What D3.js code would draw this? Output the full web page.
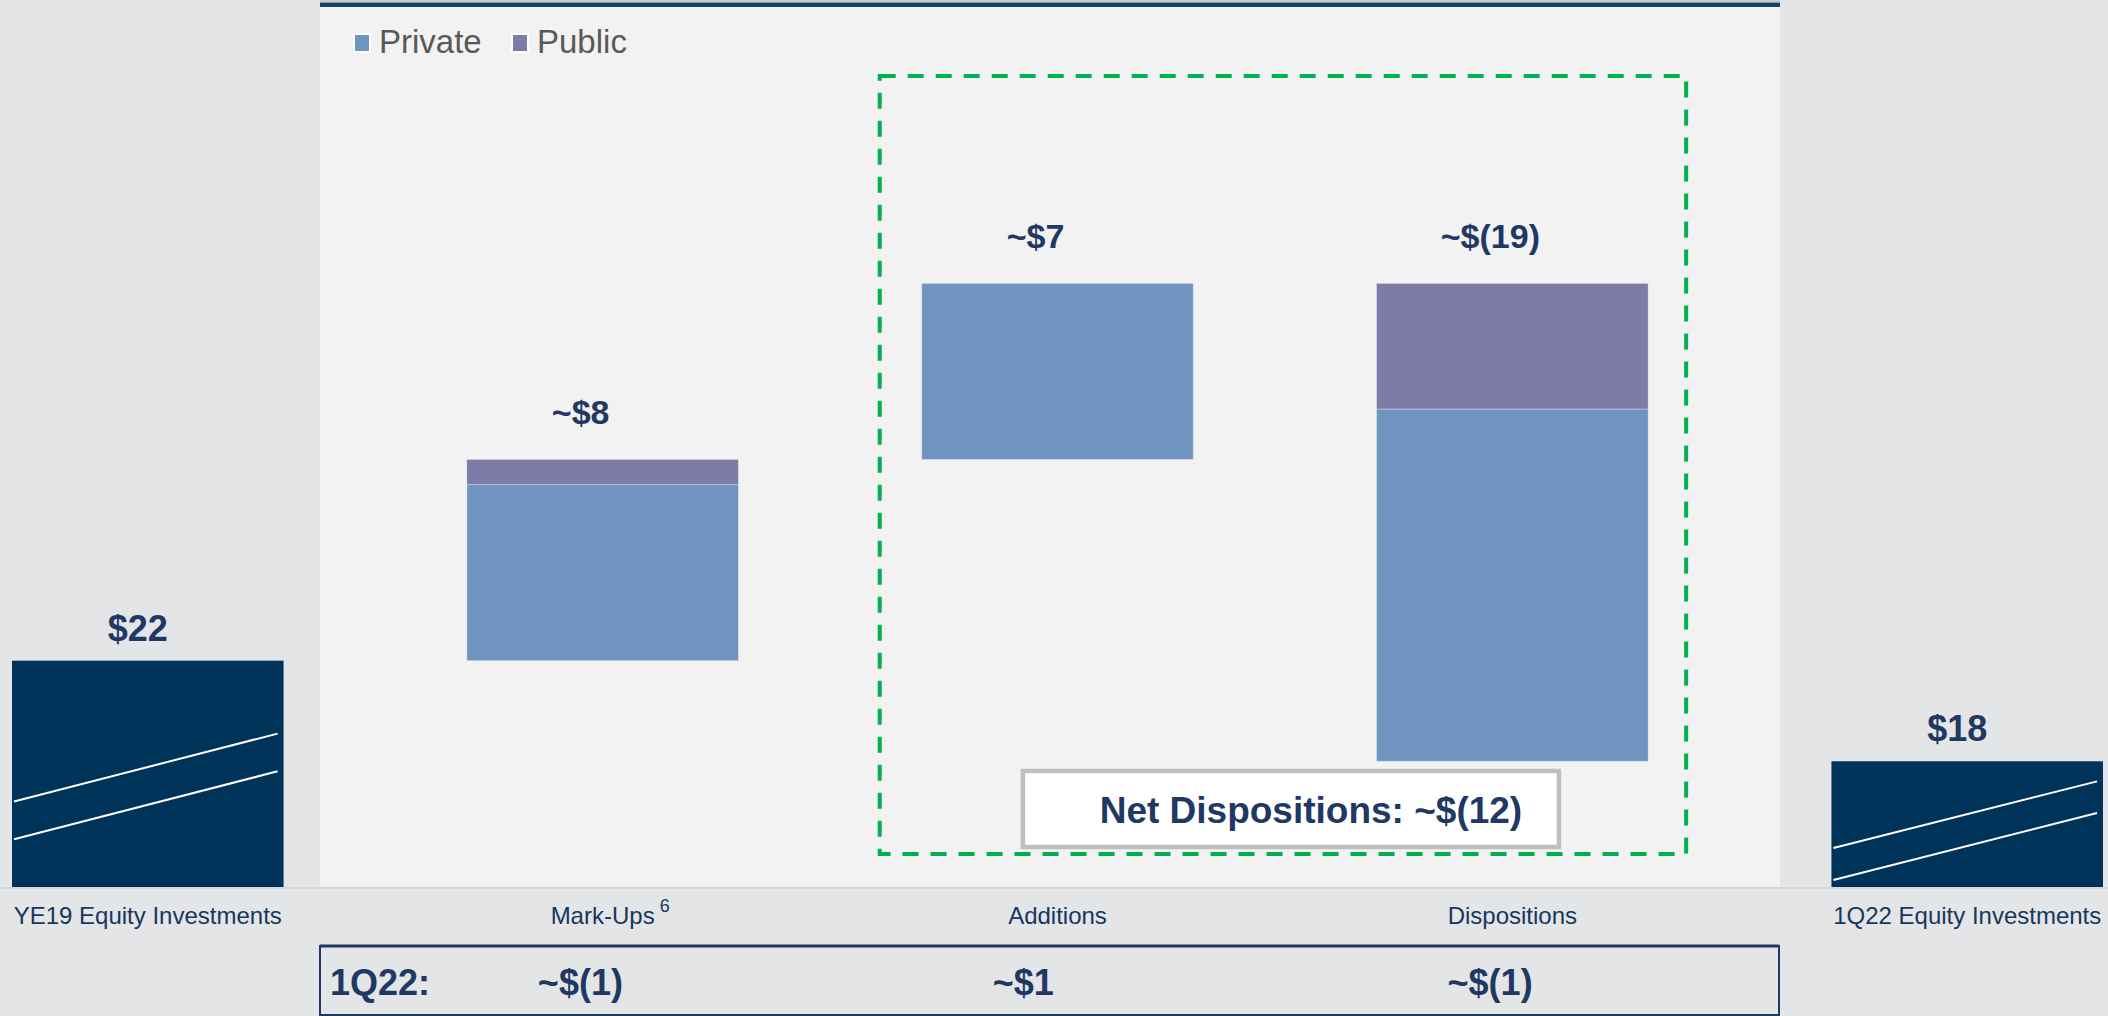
<!DOCTYPE html>
<html>
<head>
<meta charset="utf-8">
<script src="https://cdn.jsdelivr.net/npm/d3@7"></script>
<style>
  body { margin: 0; background: #e4e5e7; }
  svg { display: block; font-family: "Liberation Sans", Arial, sans-serif; }
</style>
</head>
<body>
<svg id="chart" width="2108" height="1016"></svg>
<script>
// categories along the x axis
var categories = ["YE19 Equity Investments", "Mark-Ups", "Additions", "Dispositions", "1Q22 Equity Investments"];
var footnotes = ["", "6", "", "", ""];
var barKind = ["total", "delta", "delta", "delta", "total"];
// ($bn) totals for the end bars, changes for the middle ones
var totals = [22, null, null, null, 18];
var privateChange = [null, 7, 7, -14, null];
var publicChange = [null, 1, 0, -5, null];
var topLabels = ["$22", "~$8", "~$7", "~$(19)", "$18"];
// 1Q22 row underneath
var quarterCats = ["Mark-Ups", "Additions", "Dispositions"];
var quarterLabels = ["~$(1)", "~$1", "~$(1)"];
var netLabel = "Net Dispositions: ~$(12)";
// the axis is broken: bars start at 13, break marks (value at left, value at right)
var axisFloor = 13;
var breakMarks = {
  "YE19 Equity Investments": [[16.4, 19.1], [14.9, 17.6]],
  "1Q22 Equity Investments": [[14.55, 17.2], [13.28, 15.94]]
};
var seriesNames = ["Private", "Public"];
var seriesColors = {Private: "#6f94bf", Public: "#7c7ca6"};

var svg = d3.select("#chart");
var W = 2108, baseY = 887;

var x = d3.scaleBand().domain(categories).range([12, 2103]).paddingInner(0.403).paddingOuter(0);
var y = d3.scaleLinear().domain([axisFloor, 40]).range([baseY, 208]);
var bw = x.bandwidth();

// backgrounds
svg.append("rect").attr("x", 320).attr("y", 0).attr("width", 1460).attr("height", baseY).attr("fill", "#f2f2f2");
svg.append("rect").attr("x", 320).attr("y", 0).attr("width", 1460).attr("height", 2).attr("fill", "#c5cad1");
svg.append("rect").attr("x", 320).attr("y", 2.5).attr("width", 1460).attr("height", 4.5).attr("fill", "#163f6a");
svg.append("line").attr("x1", 0).attr("x2", W).attr("y1", baseY + 1).attr("y2", baseY + 1)
  .attr("stroke", "#d5d6d8").attr("stroke-width", 2);

// legend
var leg = svg.append("g");
var legX = [354, 512];
seriesNames.forEach(function(s, i) {
  leg.append("rect").attr("x", legX[i]).attr("y", 34).attr("width", 16).attr("height", 18)
    .attr("fill", seriesColors[s]).attr("stroke", "#fff").attr("stroke-width", 2);
  leg.append("text").attr("x", legX[i] + 25).attr("y", 53).attr("font-size", 33)
    .attr("fill", "#595959").text(s);
});

// build waterfall segments
var segs = [];
var running = 0;
categories.forEach(function(c, i) {
  if (barKind[i] === "total") {
    running = totals[i];
    segs.push({cat: c, y0: axisFloor, y1: totals[i], color: "#00335a"});
    return;
  }
  var net = privateChange[i] + publicChange[i];
  var order = net >= 0 ? ["Private", "Public"] : ["Public", "Private"];
  order.forEach(function(s) {
    var v = s === "Private" ? privateChange[i] : publicChange[i];
    if (!v) return;
    segs.push({cat: c, y0: running, y1: running + v, color: seriesColors[s]});
    running += v;
  });
});

svg.append("g").selectAll("rect").data(segs).join("rect")
  .attr("x", function(d) { return x(d.cat); })
  .attr("y", function(d) { return y(Math.max(d.y0, d.y1)); })
  .attr("width", bw)
  .attr("height", function(d) { return Math.abs(y(d.y0) - y(d.y1)); })
  .attr("fill", function(d) { return d.color; })
  .attr("stroke", function(d) { return d.color === "#00335a" ? "none" : "rgba(255,255,255,0.3)"; })
  .attr("stroke-width", 1);

// break marks on the end bars
Object.keys(breakMarks).forEach(function(c) {
  breakMarks[c].forEach(function(b) {
    svg.append("line")
      .attr("x1", x(c) + 2).attr("x2", x(c) + bw - 6)
      .attr("y1", y(b[0])).attr("y2", y(b[1]))
      .attr("stroke", "#fff").attr("stroke-width", 2);
  });
});

// value labels above bars
categories.forEach(function(c, i) {
  var tops = segs.filter(function(s) { return s.cat === c; })
    .map(function(s) { return Math.max(s.y0, s.y1); });
  var top = d3.max(tops);
  var isTotal = barKind[i] === "total";
  svg.append("text")
    .attr("x", x(c) + bw / 2 + (isTotal ? -10 : -22))
    .attr("y", y(top) - (isTotal ? 20 : 35))
    .attr("text-anchor", "middle")
    .attr("font-size", isTotal ? 36 : 34).attr("font-weight", "bold")
    .attr("fill", "#1f3864")
    .text(topLabels[i]);
});

// category labels (x axis)
categories.forEach(function(c, i) {
  var t = svg.append("text")
    .attr("x", x(c) + bw / 2).attr("y", 924)
    .attr("text-anchor", "middle").attr("font-size", 24).attr("fill", "#17375e")
    .text(c);
  if (footnotes[i]) {
    var bb = t.node().getBBox();
    svg.append("text").attr("x", bb.x + bb.width + 5).attr("y", 912)
      .attr("font-size", 18).attr("fill", "#17375e").text(footnotes[i]);
  }
});

// green dashed box around additions + dispositions
var gx0 = x("Additions") - 42, gx1 = x("Dispositions") + bw + 38;
svg.append("rect").attr("x", gx0).attr("y", 76).attr("width", gx1 - gx0).attr("height", 778)
  .attr("fill", "none").attr("stroke", "#00b050").attr("stroke-width", 4)
  .attr("stroke-dasharray", "16,12");

// net dispositions callout
var mid = (x("Additions") + x("Dispositions") + bw) / 2;
svg.append("rect").attr("x", mid - 262).attr("y", 771).attr("width", 536).attr("height", 76)
  .attr("fill", "#fff").attr("stroke", "#bfbfbf").attr("stroke-width", 4.5);
svg.append("text").attr("x", mid + 26).attr("y", 823).attr("text-anchor", "middle")
  .attr("font-size", 37).attr("font-weight", "bold").attr("fill", "#1f3864").text(netLabel);

// 1Q22 row
svg.append("rect").attr("x", 320).attr("y", 946).attr("width", 1459).attr("height", 69)
  .attr("fill", "none").attr("stroke", "#1f3864").attr("stroke-width", 2);
svg.append("line").attr("x1", 320).attr("x2", 1779).attr("y1", 946).attr("y2", 946)
  .attr("stroke", "#1f3864").attr("stroke-width", 3);
svg.append("text").attr("x", 330).attr("y", 995).attr("font-size", 36).attr("font-weight", "bold")
  .attr("fill", "#1f3864").text("1Q22:");
quarterCats.forEach(function(c, i) {
  svg.append("text").attr("x", x(c) + 71).attr("y", 995)
    .attr("font-size", 36).attr("font-weight", "bold").attr("fill", "#1f3864")
    .text(quarterLabels[i]);
});
</script>
</body>
</html>
